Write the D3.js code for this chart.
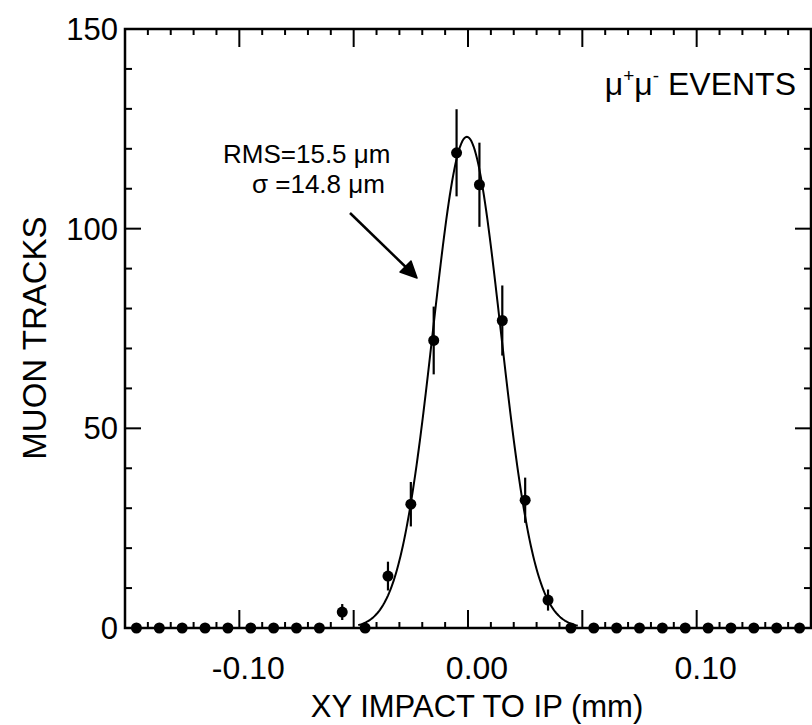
<!DOCTYPE html>
<html>
<head>
<meta charset="utf-8">
<script src="https://cdn.jsdelivr.net/npm/d3@7"></script>
<style>
  html, body { margin: 0; padding: 0; background: #fff; }
  svg text { font-family: "Liberation Sans", Arial, Helvetica, sans-serif; fill: #000; }
</style>
</head>
<body>
<svg id="chart" width="812" height="725"></svg>
<script>
// ---- data ----
const binCenters = [-0.145,-0.135,-0.125,-0.115,-0.105,-0.095,-0.085,-0.075,-0.065,-0.055,
                    -0.045,-0.035,-0.025,-0.015,-0.005,0.005,0.015,0.025,0.035,0.045,
                    0.055,0.065,0.075,0.085,0.095,0.105,0.115,0.125,0.135,0.145];
const tracks = [0,0,0,0,0,0,0,0,0,4,
                0,13,31,72,119,111,77,32,7,0,
                0,0,0,0,0,0,0,0,0,0];
const xTickValues = [-0.10, 0.00, 0.10];
const xTickLabels = ["-0.10", "0.00", "0.10"];
const yTickValues = [0, 50, 100, 150];
const yTickLabels = ["0", "50", "100", "150"];
// Gaussian fit parameters
const fitAmp = 123;
const fitMean = -0.0005;
const fitSigma = 0.0148;
const fitRange = [-0.048, 0.048];

// ---- layout ----
const svg = d3.select("#chart");
const L = 125, R = 811, T = 29, B = 628;
const x = d3.scaleLinear().domain([-0.15, 0.15]).range([L, R]);
const y = d3.scaleLinear().domain([0, 150]).range([B, T]);

const g = svg.append("g");
const minorX = d3.range(-15, 16).map(d => d / 100);
const minorY = d3.range(0, 151, 10);
function isMajorX(v){ return Math.abs(Math.round(v*100)) % 5 === 0; }
function isMajorY(v){ return v % 50 === 0; }

// bottom & top ticks
minorX.forEach(v => {
  const len = isMajorX(v) ? 18 : 6;
  g.append("line").attr("x1", x(v)).attr("x2", x(v)).attr("y1", B).attr("y2", B - len)
    .attr("stroke", "#000").attr("stroke-width", 2);
  g.append("line").attr("x1", x(v)).attr("x2", x(v)).attr("y1", T).attr("y2", T + len)
    .attr("stroke", "#000").attr("stroke-width", 2);
});
// left & right ticks
minorY.forEach(v => {
  const len = isMajorY(v) ? 16 : 7;
  g.append("line").attr("x1", L).attr("x2", L + len).attr("y1", y(v)).attr("y2", y(v))
    .attr("stroke", "#000").attr("stroke-width", 2);
  g.append("line").attr("x1", R).attr("x2", R - len).attr("y1", y(v)).attr("y2", y(v))
    .attr("stroke", "#000").attr("stroke-width", 2);
});

// frame
g.append("rect").attr("x", L).attr("y", T).attr("width", R - L).attr("height", B - T)
  .attr("fill", "none").attr("stroke", "#000").attr("stroke-width", 2.5);

// tick labels
yTickValues.forEach((v, i) => {
  svg.append("text").attr("x", 118).attr("y", y(v)).attr("dy", "0.36em")
    .attr("text-anchor", "end").attr("font-size", 31).text(yTickLabels[i]);
});
xTickValues.forEach((v, i) => {
  svg.append("text").attr("x", x(v) + 9).attr("y", 679)
    .attr("text-anchor", "middle").attr("font-size", 32).text(xTickLabels[i]);
});

// axis titles
svg.append("text").attr("x", x(0) + 9).attr("y", 717).attr("text-anchor", "middle")
  .attr("font-size", 31).text("XY IMPACT TO IP (mm)");
svg.append("text").attr("transform", "translate(46,338) rotate(-90)")
  .attr("text-anchor", "middle").attr("font-size", 33).text("MUON TRACKS");

// fit curve
const curveX = d3.range(fitRange[0], fitRange[1] + 1e-9, 0.0005);
const line = d3.line()
  .x(d => x(d))
  .y(d => y(fitAmp * Math.exp(-Math.pow(d - fitMean, 2) / (2 * fitSigma * fitSigma))));
svg.append("path").datum(curveX).attr("d", line)
  .attr("fill", "none").attr("stroke", "#000").attr("stroke-width", 2);

// error bars
const pts = binCenters.map((c, i) => ({ c, n: tracks[i] }));
svg.selectAll("line.err").data(pts.filter(d => d.n > 0)).enter().append("line")
  .attr("class", "err")
  .attr("x1", d => x(d.c)).attr("x2", d => x(d.c))
  .attr("y1", d => y(d.n + Math.sqrt(d.n))).attr("y2", d => y(d.n - Math.sqrt(d.n)))
  .attr("stroke", "#000").attr("stroke-width", 2.2);

// points
svg.selectAll("circle.pt").data(pts).enter().append("circle")
  .attr("class", "pt")
  .attr("cx", d => x(d.c)).attr("cy", d => y(d.n)).attr("r", 5.5)
  .attr("fill", "#000");

// annotations
const ev = svg.append("text").attr("x", 796).attr("y", 95).attr("text-anchor", "end")
  .attr("font-size", 32);
ev.append("tspan").text("\u03bc");
ev.append("tspan").attr("font-size", 19).attr("dy", -13).text("+");
ev.append("tspan").attr("dy", 13).text("\u03bc");
ev.append("tspan").attr("font-size", 19).attr("dy", -13).text("-");
ev.append("tspan").attr("dy", 13).text(" EVENTS");

svg.append("text").attr("x", 223).attr("y", 163).attr("font-size", 26)
  .text("RMS=15.5 \u03bcm");
svg.append("text").attr("x", 252).attr("y", 193).attr("font-size", 26)
  .text("\u03c3 =14.8 \u03bcm");

// arrow
svg.append("line").attr("x1", 350).attr("y1", 213).attr("x2", 414).attr("y2", 275)
  .attr("stroke", "#000").attr("stroke-width", 2.5);
svg.append("path").attr("d", "M400,272 L417,278 L411,261 Z").attr("fill", "#000")
  .attr("stroke", "#000").attr("stroke-width", 1.5).attr("stroke-linejoin", "round");
</script>
</body>
</html>
